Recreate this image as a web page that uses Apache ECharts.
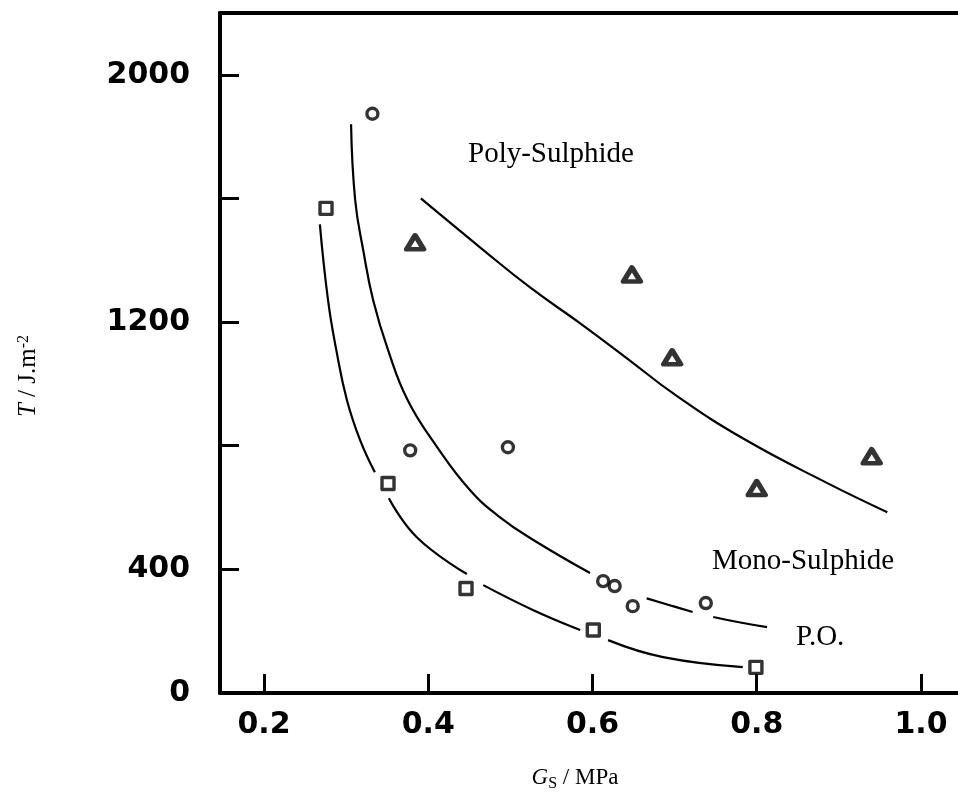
<!DOCTYPE html>
<html><head><meta charset="utf-8">
<script src="https://cdn.jsdelivr.net/npm/echarts@6/dist/echarts.min.js"></script>
<style>html,body{margin:0;padding:0;background:#fff}#c{width:958px;height:801px}</style>
</head><body><div id="c"></div>
<script>
// ---- data ----
const xTickValues = [0.2, 0.4, 0.6, 0.8, 1.0];
const yTickValues = [400, 800, 1200, 1600, 2000];
const yLabelValues = [0, 400, 1200, 2000];

// measured points
const polyPoints = [[0.384, 1458], [0.648, 1354], [0.697, 1086], [0.800, 663], [0.940, 766]];
const monoPoints = [[0.332, 1874], [0.378, 785], [0.497, 795], [0.613, 362], [0.627, 346], [0.649, 281], [0.738, 291]];
const poPoints = [[0.2755, 1568], [0.351, 678], [0.446, 338], [0.601, 204], [0.799, 83]];

// fitted curves (segments, broken around markers as in the original)
const polyCurve = [[0.391, 1600], [0.463, 1442], [0.524, 1312], [0.585, 1196], [0.642, 1083], [0.700, 966], [0.783, 824], [0.886, 679], [0.959, 585]];
const monoCurve1 = [[0.306, 1840], [0.311, 1595], [0.321, 1430], [0.333, 1270], [0.351, 1110], [0.375, 947], [0.411, 795], [0.451, 656], [0.487, 569], [0.528, 495], [0.597, 388]];
const monoCurve2 = [[0.666, 306], [0.694, 284], [0.722, 262]];
const monoCurve3 = [[0.747, 246], [0.780, 228], [0.8125, 213]];
const poCurve1 = [[0.268, 1516], [0.278, 1270], [0.288, 1110], [0.301, 947], [0.317, 818], [0.335, 714]];
const poCurve2 = [[0.352, 630], [0.386, 504], [0.447, 385]];
const poCurve3 = [[0.467, 349], [0.528, 268], [0.585, 204]];
const poCurve4 = [[0.619, 171], [0.686, 116], [0.783, 84]];

const chart = echarts.init(document.getElementById('c'), null, {renderer: 'canvas'});

const xMin = 0.1464, xMax = 1.0451, yMin = 0, yMax = 2200;
const tickFont = 'DejaVu Sans';
const serif = 'Liberation Serif';

function curve(data) {
  return {
    type: 'line', data: data, smooth: 0.45, showSymbol: false, symbol: 'none',
    lineStyle: {color: '#000', width: 2.2}, silent: true, z: 2
  };
}
function marks(data, symbol, size, bw) {
  return {
    type: 'scatter', data: data, symbol: symbol, symbolSize: size,
    itemStyle: {color: '#fff', borderColor: '#000', borderWidth: bw, borderJoin: 'round'}, z: 3
  };
}

chart.setOption({
  animation: false,
  backgroundColor: '#fff',
  grid: {left: 220, right: 0, top: 13, bottom: 108, containLabel: false, outerBoundsMode: 'none'},
  xAxis: [{
    type: 'value', min: xMin, max: xMax, position: 'bottom',
    name: '{i|G}{s|S}{n| / MPa}', nameLocation: 'middle', nameGap: 73,
    nameTextStyle: {
      color: '#000', fontFamily: serif, fontSize: 23, padding: [0, 28, 0, 0],
      rich: {
        i: {fontFamily: serif, fontStyle: 'italic', fontSize: 23, color: '#000', verticalAlign: 'bottom'},
        s: {fontFamily: serif, fontSize: 16, color: '#000', verticalAlign: 'bottom', padding: [0, 0, -3, 0]},
        n: {fontFamily: serif, fontSize: 23, color: '#000', verticalAlign: 'bottom'}
      }
    },
    axisLine: {show: true, onZero: false, lineStyle: {color: '#000', width: 4}},
    axisTick: {show: true, inside: true, length: 19, customValues: xTickValues, lineStyle: {color: '#000', width: 3}},
    axisLabel: {show: true, customValues: xTickValues, margin: 17, color: '#000', fontFamily: tickFont, fontWeight: 'bold', fontSize: 30,
      formatter: v => v.toFixed(1)},
    splitLine: {show: false}
  }, {
    type: 'value', min: xMin, max: xMax, position: 'top',
    axisLine: {show: true, onZero: false, lineStyle: {color: '#000', width: 4}},
    axisTick: {show: false}, axisLabel: {show: false}, splitLine: {show: false}
  }],
  yAxis: {
    type: 'value', min: yMin, max: yMax,
    name: '{i|T}{n| / J.m}{p|-2}', nameLocation: 'middle', nameGap: 179, nameRotate: 90,
    nameTextStyle: {
      color: '#000', fontFamily: serif, fontSize: 25, padding: [0, 46, 0, 0],
      rich: {
        i: {fontFamily: serif, fontStyle: 'italic', fontSize: 25, color: '#000', verticalAlign: 'bottom'},
        n: {fontFamily: serif, fontSize: 25, color: '#000', verticalAlign: 'bottom'},
        p: {fontFamily: serif, fontSize: 16, color: '#000', verticalAlign: 'top'}
      }
    },
    axisLine: {show: true, onZero: false, lineStyle: {color: '#000', width: 4}},
    axisTick: {show: true, inside: true, length: 19, customValues: yTickValues, lineStyle: {color: '#000', width: 3}},
    axisLabel: {show: true, customValues: yLabelValues, margin: 30, color: '#000', fontFamily: tickFont, fontWeight: 'bold', fontSize: 30,
      formatter: v => String(v)},
    splitLine: {show: false}
  },
  graphic: [
    {type: 'text', left: 468, top: 140, style: {text: 'Poly-Sulphide', fontFamily: serif, fontSize: 29, fill: '#000'}},
    {type: 'text', left: 712, top: 547, style: {text: 'Mono-Sulphide', fontFamily: serif, fontSize: 29, fill: '#000'}},
    {type: 'text', left: 796, top: 623, style: {text: 'P.O.', fontFamily: serif, fontSize: 29, fill: '#000'}}
  ],
  series: [
    curve(polyCurve), curve(monoCurve1), curve(monoCurve2), curve(monoCurve3),
    curve(poCurve1), curve(poCurve2), curve(poCurve3), curve(poCurve4),
    marks(polyPoints, 'triangle', [17, 14], 5),
    marks(monoPoints, 'circle', 11, 3.4),
    marks(poPoints, 'rect', 12, 3.4)
  ]
});
</script>
</body></html>
